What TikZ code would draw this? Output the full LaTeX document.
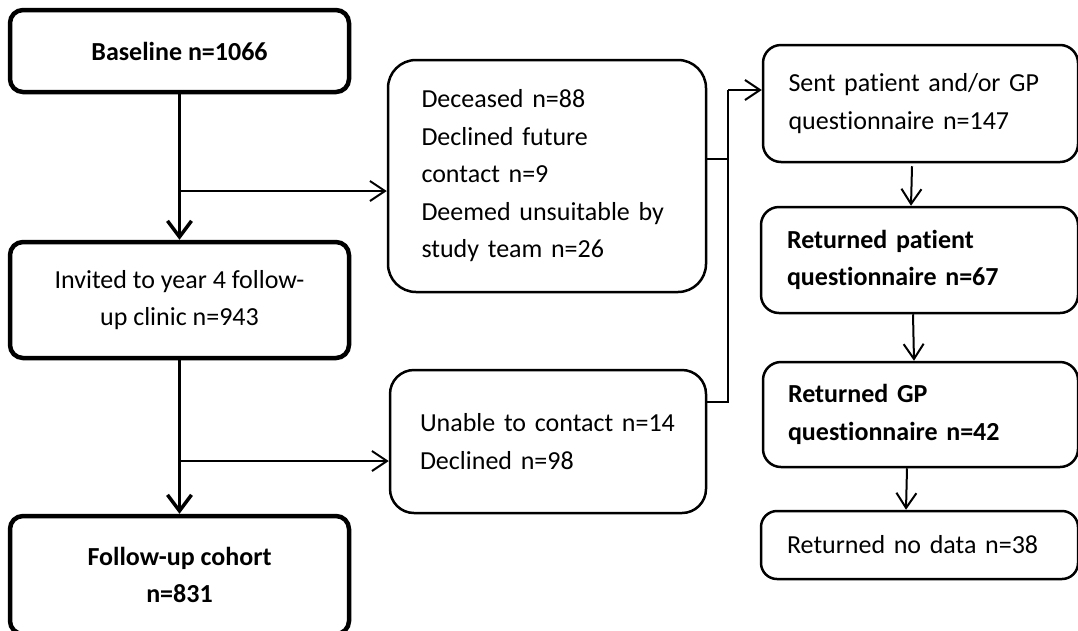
\documentclass[tikz,border=0pt]{standalone}
\usepackage{fontspec}
\setmainfont{Carlito}[Ligatures=NoCommon]
\usetikzlibrary{arrows.meta}
\begin{document}
\begin{tikzpicture}[x=1pt,y=-1pt,
  every node/.style={font=\fontsize{26}{37.5}\selectfont, inner sep=0pt},
  mainbox/.style={draw, line width=4.5pt, rounded corners=13pt, align=center},
  sidebox/.style={draw, line width=2.5pt, align=left},
  thickarrow/.style={line width=3.5pt, -{Straight Barb[length=16pt,width=24pt]}},
  thinarrow/.style={line width=2pt, -{Straight Barb[length=15pt,width=20pt]}},
  link/.style={line width=2pt}]
\clip (0,0) rectangle (1078,630);

% left column
\node[mainbox, minimum width=339pt, minimum height=82pt] (base) at (179.5,51)
  {\bfseries Baseline n=1066};
\node[mainbox, minimum width=339pt, minimum height=116pt] (invited) at (179.5,300)
  {Invited to year 4 follow-\\up clinic n=943};
\node[mainbox, minimum width=339pt, minimum height=118pt] (cohort) at (179.5,575)
  {\bfseries Follow-up cohort\\\bfseries n=831};

% exclusions
\node[sidebox, rounded corners=28pt, minimum width=318pt, minimum height=232pt,
      text width=251pt] (deceased) at (547,176)
  {Deceased n=88\\Declined future\\contact n=9\\
   \makebox[251pt][s]{Deemed unsuitable by}\\study team n=26};
\node[sidebox, rounded corners=24pt, minimum width=316pt, minimum height=143pt,
      text width=256pt] (unable) at (548,441.5)
  {Unable to contact n=14\\Declined n=98};

% questionnaire column
\node[sidebox, rounded corners=18pt, minimum width=315pt, minimum height=117pt,
      text width=264pt] (sent) at (920.5,103.5)
  {\makebox[264pt][s]{Sent patient and/or GP}\\questionnaire n=147};
\node[sidebox, rounded corners=18pt, minimum width=317pt, minimum height=106pt,
      text width=265pt] (retpat) at (919.5,260)
  {\bfseries Returned patient\\\bfseries questionnaire n=67};
\node[sidebox, rounded corners=18pt, minimum width=315pt, minimum height=105pt,
      text width=265pt] (retgp) at (920.5,414.5)
  {\bfseries Returned GP\\\bfseries questionnaire n=42};
\node[sidebox, rounded corners=16pt, minimum width=317pt, minimum height=68pt,
      text width=265pt] (nodata) at (919.5,545)
  {Returned no data n=38};

% main flow
\draw[thickarrow] (base) -- (invited);
\draw[thickarrow] (invited) -- (cohort);
\coordinate (b1) at (179.5,191);
\coordinate (b2) at (179.5,461);
\draw[thinarrow] (b1) -- (b1 -| deceased.west);
\draw[thinarrow] (b2) -- (b2 -| unable.west);

% junction to questionnaires
\coordinate (j1) at (728,159);
\coordinate (jtop) at (728,90);
\coordinate (jbot) at (728,402);
\draw[link] (j1 -| deceased.east) -- (j1);
\draw[link] (jbot -| unable.east) -- (jbot) -- (jtop);
\draw[thinarrow] (jtop) -- (jtop -| sent.west);

% questionnaire flow
\draw[thinarrow] ([xshift=-8.5pt,yshift=-3pt]sent.south) -- ([xshift=-8.5pt]retpat.north);
\draw[thinarrow] ([xshift=-6.5pt]retpat.south) -- ([xshift=-6.5pt]retgp.north);
\draw[thinarrow] ([xshift=-13.5pt]retgp.south) -- ([xshift=-13.5pt]nodata.north);
\end{tikzpicture}
\end{document}
